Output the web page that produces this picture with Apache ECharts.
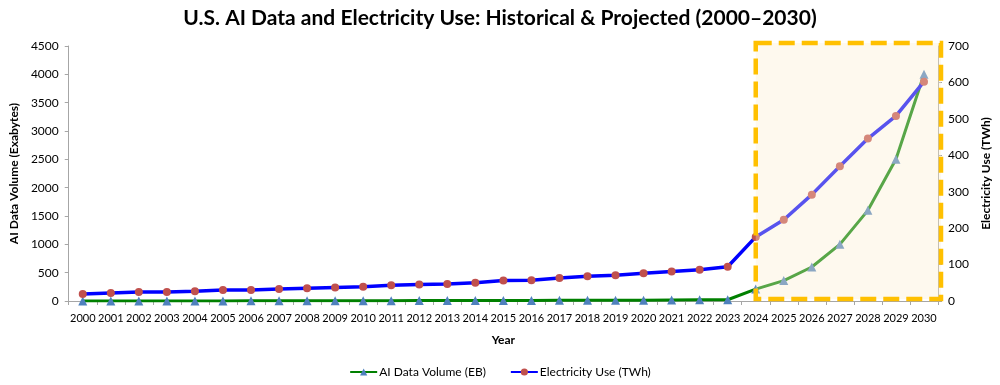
<!DOCTYPE html>
<html>
<head>
<meta charset="utf-8">
<script src="https://cdn.jsdelivr.net/npm/echarts@6/dist/echarts.min.js"></script>
<style>
html,body{margin:0;padding:0;background:#fff;}
#main{width:1000px;height:385px;}
</style>
</head>
<body>
<div id="main"></div>
<script>
const years = ['2000','2001','2002','2003','2004','2005','2006','2007','2008','2009','2010',
  '2011','2012','2013','2014','2015','2016','2017','2018','2019','2020',
  '2021','2022','2023','2024','2025','2026','2027','2028','2029','2030'];
const aiDataVolumeEB = [0.5,0.7,1,1.3,1.7,2,2.5,3,3.5,4,5,
  6,7,8,9,10,11,12,13,14,15,
  18,20,22,210,360,600,1000,1600,2500,4000];
const electricityTWh = [19,22,25,25,27,30,30,33,35,37,39,
  43,45,47,50,56,57,63,68,71,76,
  81,86,94,176,223,292,370,446,508,602];
const leftTicks = {min:0, max:4500, interval:500};
const rightTicks = {min:0, max:700, interval:100};
const highlightStart = '2024';

const FONT = 'Lato';
const chart = echarts.init(document.getElementById('main'), null, {renderer:'canvas'});
const axisLineStyle = {show:true, lineStyle:{color:'#A6A6A6', width:1}};
chart.setOption({
  animation:false,
  backgroundColor:'#fff',
  textStyle:{fontFamily:FONT},
  title:{
    text:'U.S. AI Data and Electricity Use: Historical & Projected (2000\u20132030)',
    left:'center', top:3,
    textStyle:{fontFamily:FONT, fontSize:21, fontWeight:'bold', color:'#000'}
  },
  legend:{
    bottom:2, left:'center',
    itemWidth:27, itemHeight:9, itemGap:24,
    textStyle:{fontFamily:FONT, fontSize:12, color:'#000', padding:[0,0,0,-3]},
    data:['AI Data Volume (EB)','Electricity Use (TWh)']
  },
  grid:{left:68, right:62, top:46, bottom:84, containLabel:false},
  xAxis:{
    type:'category', data:years, boundaryGap:true,
    name:'Year', nameLocation:'middle', nameGap:33,
    nameTextStyle:{fontFamily:FONT, fontSize:12, fontWeight:'bold', color:'#000'},
    axisLine:axisLineStyle,
    axisTick:{show:true, length:4, alignWithLabel:false, lineStyle:{color:'#A6A6A6'}},
    axisLabel:{interval:0, fontFamily:FONT, fontSize:11, color:'#000', margin:12},
    splitLine:{show:false}
  },
  yAxis:[{
    type:'value', position:'left', min:leftTicks.min, max:leftTicks.max, interval:leftTicks.interval,
    name:'AI Data Volume (Exabytes)', nameLocation:'middle', nameGap:38, nameRotate:90,
    nameTextStyle:{fontFamily:FONT, fontSize:12, fontWeight:'bold', color:'#000'},
    axisLine:axisLineStyle,
    axisTick:{show:true, length:4, lineStyle:{color:'#A6A6A6'}},
    axisLabel:{fontFamily:FONT, fontSize:12, color:'#000', margin:10, formatter:function(v){return String(v);}},
    splitLine:{show:false}
  },{
    type:'value', position:'right', min:rightTicks.min, max:rightTicks.max, interval:rightTicks.interval,
    name:'Electricity Use (TWh)', nameLocation:'middle', nameGap:42, nameRotate:90,
    nameTextStyle:{fontFamily:FONT, fontSize:12, fontWeight:'bold', color:'#000'},
    axisLine:axisLineStyle,
    axisTick:{show:true, length:4, lineStyle:{color:'#A6A6A6'}},
    axisLabel:{fontFamily:FONT, fontSize:12, color:'#000', margin:10, formatter:function(v){return String(v);}},
    splitLine:{show:false}
  }],
  series:[{
    name:'AI Data Volume (EB)', type:'line', yAxisIndex:0, data:aiDataVolumeEB,
    symbol:'triangle', symbolSize:9,
    lineStyle:{color:'#008000', width:3},
    itemStyle:{color:'#4F81BD', borderWidth:0},
    z:2
  },{
    name:'Electricity Use (TWh)', type:'line', yAxisIndex:1, data:electricityTWh,
    symbol:'circle', symbolSize:8,
    lineStyle:{color:'#0000FF', width:3.5},
    itemStyle:{color:'#C0504D', borderWidth:0},
    z:3
  }]
});

function drawBox(){
  const x0 = chart.convertToPixel({xAxisIndex:0}, highlightStart);
  const yTop = chart.convertToPixel({yAxisIndex:0}, leftTicks.max);
  const yBot = chart.convertToPixel({yAxisIndex:0}, leftTicks.min);
  const x1 = chart.getWidth() - 62 + 3;
  chart.setOption({
    graphic:[{
      type:'rect', z:100, silent:true,
      shape:{x:x0, y:yTop - 3, width:x1 - x0, height:(yBot - 2) - (yTop - 3)},
      style:{fill:'rgba(251,237,205,0.35)', stroke:'#FFC000', lineWidth:4.5, lineDash:[16,7]}
    }]
  });
}
drawBox();
</script>
</body>
</html>
